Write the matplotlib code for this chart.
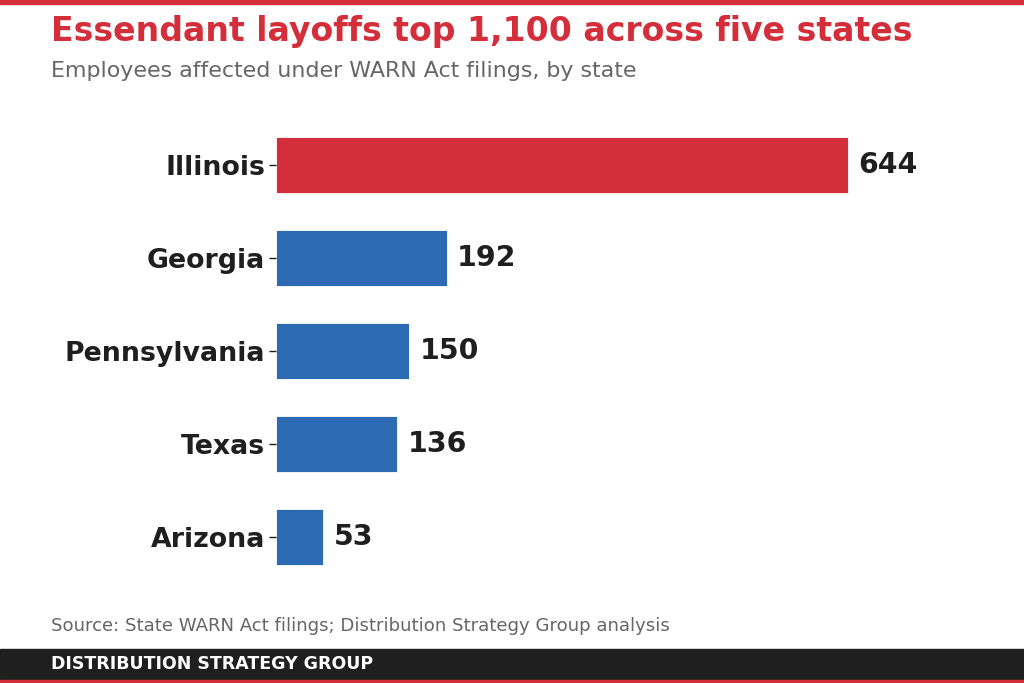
import matplotlib
matplotlib.use("Agg")
import matplotlib.pyplot as plt
from matplotlib.patches import Rectangle

plt.rcParams["font.family"] = ["DejaVu Sans"]

# data
states = ["Illinois", "Georgia", "Pennsylvania", "Texas", "Arizona"]
employees = [644, 192, 150, 136, 53]

RED = "#d42e3a"
BLUE = "#2d6ab4"
DARK = "#1f1f1f"
GREY = "#666666"

fig = plt.figure(figsize=(10.24, 6.83), dpi=100)
ax = fig.add_axes([276 / 1024, 1 - 583.5 / 683, 660 / 1024, 465 / 683])

colors = [RED] + [BLUE] * (len(states) - 1)
ypos = list(range(len(states)))
ax.barh(ypos, employees, height=0.6, color=colors, edgecolor="white", linewidth=0.6)
ax.set_yticks(ypos)
ax.set_yticklabels(states, fontsize=19.3, fontweight="bold", color=DARK)
ax.set_ylim(4.5, -0.5)
ax.set_xlim(0, 644 / 572 * 660)
ax.set_xticks([])
for s in ax.spines.values():
    s.set_visible(False)
ax.tick_params(axis="y", length=5, width=1, color=DARK, pad=3)

for y, v in zip(ypos, employees):
    ax.text(v + 12, y, f"{v}", va="center", ha="left", fontsize=20.4,
            fontweight="bold", color=DARK)

# header and footer
fig.text(51 / 1024, 1 - 31 / 683, "Essendant layoffs top 1,100 across five states",
         fontsize=23.9, fontweight="bold", color=RED, va="center")
fig.text(51 / 1024, 1 - 71 / 683, "Employees affected under WARN Act filings, by state",
         fontsize=15.9, color=GREY, va="center")
fig.text(51 / 1024, 1 - 626 / 683, "Source: State WARN Act filings; Distribution Strategy Group analysis",
         fontsize=13.1, color=GREY, va="center")

fig.patches.append(Rectangle((0, 1 - 4 / 683), 1, 4 / 683, transform=fig.transFigure,
                             color=RED, zorder=0))
fig.patches.append(Rectangle((0, 3 / 683), 1, 31 / 683, transform=fig.transFigure,
                             color=DARK, zorder=0))
fig.patches.append(Rectangle((0, 0), 1, 3 / 683, transform=fig.transFigure,
                             color=RED, zorder=0))
fig.text(51 / 1024, 1 - 664 / 683, "DISTRIBUTION STRATEGY GROUP", fontsize=12.5,
         fontweight="bold", color="white", va="center")

fig.savefig("out.png", dpi=100)
